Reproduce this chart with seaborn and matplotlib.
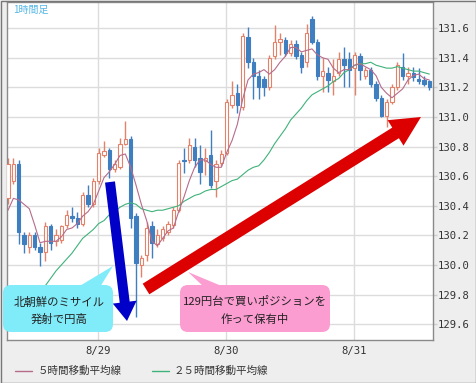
import numpy as np
import pandas as pd
import matplotlib
matplotlib.use('Agg')
import matplotlib.pyplot as plt
import seaborn as sns
from matplotlib.patches import FancyBboxPatch, Polygon, FancyArrow
from matplotlib.lines import Line2D

# ---------------- data (USD/JPY, 1 hour candles, 8/28 07:00 - 8/31 14:00) ----------------
opens = [130.45,130.57,130.68,130.20,130.12,130.20,130.12,130.09,130.26,130.16,
         130.17,130.27,130.33,130.32,130.28,130.47,130.41,130.57,130.74,130.78,
         130.65,130.66,130.82,130.85,130.33,130.00,130.07,130.26,130.14,130.18,
         130.22,130.27,130.37,130.71,130.71,130.80,130.72,130.70,130.74,130.57,
         130.69,130.76,131.08,131.16,131.07,131.54,131.37,131.28,131.26,131.20,
         131.41,131.51,131.52,131.43,131.49,131.42,131.37,131.66,131.51,131.28,
         131.30,131.24,131.30,131.39,131.39,131.33,131.41,131.28,131.32,131.22,
         131.13,131.01,131.10,131.20,131.34,131.28,131.30,131.26,131.25,131.24]
highs = [130.72,130.72,130.71,130.22,130.22,130.22,130.15,130.29,130.28,130.24,
         130.27,130.37,130.39,130.36,130.49,130.54,130.59,130.79,130.84,130.79,
         130.71,130.86,130.97,130.87,130.35,130.07,130.29,130.30,130.24,130.26,
         130.30,130.39,130.71,130.79,130.86,130.86,130.81,130.79,130.91,130.71,
         130.78,131.12,131.24,131.22,131.57,131.61,131.40,131.32,131.28,131.42,
         131.62,131.57,131.54,131.52,131.52,131.44,131.63,131.68,131.53,131.40,
         131.34,131.39,131.44,131.47,131.44,131.44,131.43,131.34,131.34,131.24,
         131.15,131.12,131.22,131.37,131.43,131.34,131.34,131.33,131.28,131.25]
lows = [130.41,130.55,130.14,130.08,130.08,130.10,129.99,130.03,130.10,130.13,
        130.15,130.25,130.29,130.25,130.26,130.39,130.39,130.55,130.73,130.59,
        130.63,130.65,130.81,130.25,129.65,129.92,130.03,130.05,130.12,130.16,
        130.20,130.25,130.36,130.62,130.69,130.66,130.55,130.61,130.52,130.46,
        130.67,130.74,131.06,131.03,131.05,131.33,131.12,131.12,131.14,131.18,
        131.39,131.42,131.41,131.41,131.39,131.30,131.34,131.49,131.25,131.17,
        131.17,131.15,131.28,131.20,131.20,131.15,131.25,131.26,131.20,131.11,
        131.00,130.93,131.09,131.18,131.25,131.22,131.24,131.22,131.21,131.18]
closes = [130.68,130.68,130.22,130.14,130.20,130.12,130.09,130.26,130.15,130.20,
          130.26,130.34,130.32,130.28,130.47,130.41,130.57,130.76,130.77,130.65,
          130.68,130.82,130.85,130.32,130.01,130.05,130.25,130.15,130.20,130.24,
          130.28,130.37,130.69,130.70,130.81,130.71,130.63,130.72,130.54,130.68,
          130.75,131.10,131.15,131.08,131.55,131.37,131.28,131.20,131.20,131.40,
          131.51,131.53,131.43,131.49,131.41,131.34,131.57,131.51,131.28,131.31,
          131.25,131.28,131.39,131.35,131.32,131.42,131.32,131.32,131.22,131.13,
          131.01,131.10,131.20,131.35,131.28,131.30,131.27,131.24,131.22,131.20]
ma5 = [130.37,130.45,130.44,130.41,130.38,130.27,130.15,130.16,130.16,130.16,
       130.19,130.24,130.25,130.28,130.33,130.36,130.41,130.50,130.59,130.63,
       130.68,130.74,130.75,130.66,130.54,130.41,130.30,130.16,130.13,130.18,
       130.23,130.25,130.36,130.46,130.57,130.66,130.71,130.71,130.68,130.66,
       130.66,130.76,130.84,130.95,131.12,131.25,131.29,131.30,131.32,131.29,
       131.32,131.37,131.41,131.47,131.47,131.44,131.45,131.46,131.42,131.40,
       131.39,131.33,131.30,131.32,131.32,131.35,131.36,131.34,131.32,131.28,
       131.20,131.16,131.13,131.16,131.19,131.25,131.28,131.29,131.26,131.25]
ma25 = [129.59,129.64,129.67,129.71,129.75,129.78,129.82,129.86,129.91,129.96,
        130.00,130.04,130.08,130.13,130.18,130.21,130.24,130.28,130.30,130.34,
        130.36,130.39,130.41,130.42,130.41,130.38,130.37,130.36,130.37,130.37,
        130.38,130.39,130.40,130.43,130.45,130.47,130.48,130.50,130.51,130.51,
        130.53,130.55,130.57,130.58,130.61,130.64,130.66,130.67,130.71,130.76,
        130.82,130.87,130.92,130.98,131.02,131.06,131.11,131.15,131.17,131.19,
        131.21,131.24,131.26,131.30,131.32,131.35,131.36,131.36,131.37,131.35,
        131.34,131.33,131.33,131.34,131.33,131.32,131.31,131.31,131.30,131.29]

y_ticks = [129.6, 129.8, 130.0, 130.2, 130.4, 130.6, 130.8, 131.0, 131.2, 131.4, 131.6]
date_labels = ['8/29', '8/30', '8/31']
date_positions = [16.85, 40.9, 64.9]   # midnight of each day on the candle index axis
legend_labels = ['５時間移動平均線', '２５時間移動平均線']
timeframe_label = '1時間足'
note_left = ['北朝鮮のミサイル', '発射で円高']
note_right = ['129円台で買いポジションを', '作って保有中']

# ---------------- style ----------------
sns.set_theme(style='white')
plt.rcParams['font.family'] = ['Noto Sans CJK JP', 'DejaVu Sans']

UP_EDGE = '#e3826a'
DOWN_COL = '#3f7fc0'
MA5_COL = '#b66b8a'
MA25_COL = '#3fb27a'
GRID = '#dcdcdc'

W, H = 476, 383
fig = plt.figure(figsize=(W / 100, H / 100), dpi=100, facecolor='#eeeeee')

def fx(px):
    return px / W

def fy(py):
    return 1 - py / H

ax = fig.add_axes([fx(7), fy(340), fx(433) - fx(7), fy(2) - fy(340)])
ax.set_facecolor('white')

n = len(opens)
assert all(len(a) == n for a in (highs, lows, closes, ma5, ma25))
x = np.arange(n)
o = np.array(opens); h = np.array(highs); l = np.array(lows); c = np.array(closes)
up = c >= o
wick_cols = [UP_EDGE if u else DOWN_COL for u in up]
face_cols = ['white' if u else DOWN_COL for u in up]
edge_cols = [UP_EDGE if u else DOWN_COL for u in up]

ax.vlines(x, l, h, colors=wick_cols, linewidth=1.0, zorder=2)
body_bottom = np.minimum(o, c)
body_h = np.maximum(np.abs(c - o), 0.008)
ax.bar(x, body_h, bottom=body_bottom, width=0.64, color=face_cols,
       edgecolor=edge_cols, linewidth=0.8, zorder=3)

df = pd.DataFrame({'x': x, 'ma5': ma5, 'ma25': ma25})
sns.lineplot(data=df, x='x', y='ma25', color=MA25_COL, linewidth=0.8, ax=ax, zorder=4)
sns.lineplot(data=df, x='x', y='ma5', color=MA5_COL, linewidth=0.8, ax=ax, zorder=4)

ax.set_xlim(-0.19, 79.69)
ax.set_ylim(129.493, 131.777)
ax.set_xlabel('')
ax.set_ylabel('')
ax.set_yticks(y_ticks)
ax.set_yticklabels([f'{v:.1f}' for v in y_ticks])
ax.set_xticks(date_positions)
ax.set_xticklabels(date_labels)
ax.yaxis.tick_right()
ax.grid(True, color=GRID, linewidth=1.0, zorder=0)
ax.set_axisbelow(True)
ax.tick_params(axis='y', which='both', right=True, length=3, width=1, color='#cfcfcf',
               pad=0.5, labelsize=7.6, labelcolor='#333333')
ax.tick_params(axis='x', which='both', bottom=False, length=0, pad=4.5,
               labelsize=7.6, labelcolor='#333333')
for lab in ax.get_yticklabels() + ax.get_xticklabels():
    lab.set_fontfamily('DejaVu Sans Mono')
for s in ax.spines.values():
    s.set_color('#8a8a8a')
    s.set_linewidth(1.0)
    s.set_visible(True)

# ---------------- overlay in pixel coordinates ----------------
ov = fig.add_axes([0, 0, 1, 1])
ov.set_xlim(0, W)
ov.set_ylim(H, 0)
ov.axis('off')
ov.patch.set_alpha(0)

# outer frame
ov.add_patch(plt.Rectangle((0.5, 0.5), W - 1, H - 1, fill=False, ec='#777777', lw=1.0))

ov.text(13, 10, timeframe_label, color='#55b8e6', fontsize=7.2, va='center', ha='left')

# arrows
ov.add_patch(FancyArrow(110, 182, 17, 139, width=10, head_width=24, head_length=19,
                        length_includes_head=True, color='#0000c8', lw=0, zorder=5))
ov.add_patch(FancyArrow(146, 289, 275, -172, width=12.5, head_width=30, head_length=30,
                        length_includes_head=True, color='#dc0000', lw=0, zorder=5))

# callouts
CYAN = '#80ebf9'
PINK = '#fc9dd1'
ov.add_patch(FancyBboxPatch((3, 285), 110, 47, boxstyle='round,pad=0,rounding_size=8',
                            fc=CYAN, ec='none', zorder=6))
ov.add_patch(Polygon([(78, 287), (100, 287), (113, 266)], closed=True, fc=CYAN, ec='none', zorder=6))
ov.add_patch(FancyBboxPatch((180, 285), 150, 47, boxstyle='round,pad=0,rounding_size=8',
                            fc=PINK, ec='none', zorder=6))
ov.add_patch(Polygon([(188, 272), (204, 287), (224, 287)], closed=True, fc=PINK, ec='none', zorder=6))

for k, t in enumerate(note_left):
    ov.text(59, 302 + 17 * k, t, ha='center', va='center', fontsize=8.2, color='#222222', zorder=7)
for k, t in enumerate(note_right):
    ov.text(255, 302 + 17 * k, t, ha='center', va='center', fontsize=8.2, color='#222222', zorder=7)

# legend
ov.add_line(Line2D([15, 32], [371, 371], color=MA5_COL, lw=1.0))
ov.text(38, 371, legend_labels[0], ha='left', va='center', fontsize=7.6, color='#333333')
ov.add_line(Line2D([152, 169], [371, 371], color=MA25_COL, lw=1.0))
ov.text(174, 371, legend_labels[1], ha='left', va='center', fontsize=7.6, color='#333333')

fig.savefig('out.png', dpi=100, facecolor=fig.get_facecolor())
